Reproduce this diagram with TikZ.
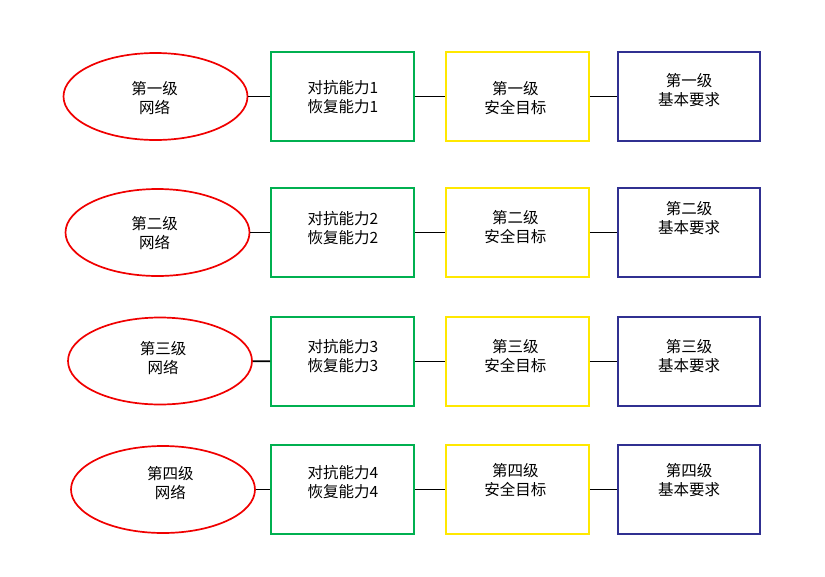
\documentclass[tikz,border=0pt]{standalone}
\usepackage{fontspec}
\newfontfamily\cjk{Noto Sans CJK SC}
\usetikzlibrary{shapes.geometric}
\definecolor{netred}{RGB}{240,0,0}
\definecolor{abgreen}{RGB}{0,176,80}
\definecolor{goalyellow}{RGB}{255,232,0}
\definecolor{reqblue}{RGB}{48,48,145}
\tikzset{
    net/.style={ellipse, draw=netred, line width=1.7pt, minimum width=184pt, minimum height=87pt, inner sep=0pt},
    ability/.style={rectangle, draw=abgreen, line width=1.7pt, minimum width=143pt, minimum height=89pt, inner sep=0pt},
    goal/.style={rectangle, draw=goalyellow, line width=1.7pt, minimum width=143pt, minimum height=89pt, inner sep=0pt},
    require/.style={rectangle, draw=reqblue, line width=1.7pt, minimum width=142pt, minimum height=89pt, inner sep=0pt},
    link/.style={draw=black, line width=1.7pt},
    txt/.style={align=center, inner sep=0pt, font=\cjk\fontsize{15.5}{19}\selectfont},
}

\begin{document}
\begin{tikzpicture}[x=1pt,y=-1pt]
		\useasboundingbox (0,0) rectangle (825,576);
		% Networks
		\node[net] (n1) at (155.5,96.5) {};
		\node[net] (n2) at (157.5,232.5) {};
		\node[net] (n3) at (160,361) {};
		\node[net] (n4) at (163,489.5) {};
		% Abilities
		\node[ability] (a1) at (342.5,96.5) {};
		\node[ability] (a2) at (342.5,232.5) {};
		\node[ability] (a3) at (342.5,361.5) {};
		\node[ability] (a4) at (342.5,489.5) {};
		% Security goals
		\node[goal] (g1) at (517.5,96.5) {};
		\node[goal] (g2) at (517.5,232.5) {};
		\node[goal] (g3) at (517.5,361.5) {};
		\node[goal] (g4) at (517.5,489.5) {};
		% Basic requirements
		\node[require] (r1) at (689,96.5) {};
		\node[require] (r2) at (689,232.5) {};
		\node[require] (r3) at (689,361.5) {};
		\node[require] (r4) at (689,489.5) {};
		% Links
		\foreach \i in {1,...,4} {
			\draw[link] (n\i) -- (a\i);
			\draw[link] (a\i) -- (g\i);
			\draw[link] (g\i) -- (r\i);
		}
		% Labels
		\node[txt] (tn1) at (154.7,98.5) {第一级\\网络};
		\node[txt] (tn2) at (154.7,233.5) {第二级\\网络};
		\node[txt] (tn3) at (163,358.5) {第三级\\网络};
		\node[txt] (tn4) at (170.4,483) {第四级\\网络};
		\node[txt] (ta1) at (343,97) {对抗能力1\\恢复能力1};
		\node[txt] (ta2) at (343,228) {对抗能力2\\恢复能力2};
		\node[txt] (ta3) at (343,356.5) {对抗能力3\\恢复能力3};
		\node[txt] (ta4) at (343,482) {对抗能力4\\恢复能力4};
		\node[txt] (tg1) at (515.3,98.5) {第一级\\安全目标};
		\node[txt] (tg2) at (515.3,227.5) {第二级\\安全目标};
		\node[txt] (tg3) at (515.3,356) {第三级\\安全目标};
		\node[txt] (tg4) at (515.3,480) {第四级\\安全目标};
		\node[txt] (tr1) at (689.2,90.5) {第一级\\基本要求};
		\node[txt] (tr2) at (689.2,218.5) {第二级\\基本要求};
		\node[txt] (tr3) at (689.2,356) {第三级\\基本要求};
		\node[txt] (tr4) at (689.2,480) {第四级\\基本要求};
	\end{tikzpicture}
\end{document}
